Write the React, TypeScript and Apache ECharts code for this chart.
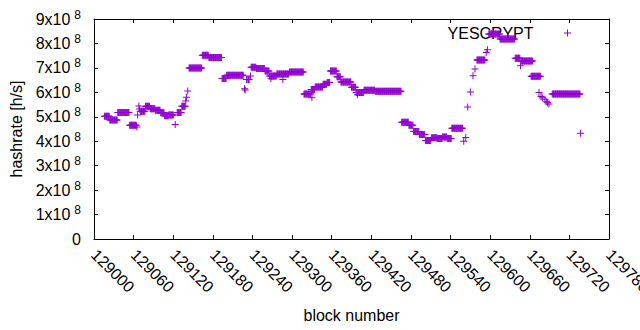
import React, { useEffect, useRef } from "react";
import * as echarts from "echarts";

// Block numbers are offsets from 129000; hashrate values in units of 1e8 h/s.
// Each run = consecutive blocks sharing the same plotted hashrate.
const BLOCK_BASE = 129000;
const runStart = [16, 24, 36, 54, 65, 66, 68, 69, 70, 78, 85, 93, 101, 107, 113, 123, 126, 133, 139, 140, 142, 144, 164, 174, 194, 201, 228, 229, 231, 233, 237, 238, 246, 259, 266, 268, 277, 286, 296, 318, 329, 330, 335, 347, 353, 358, 368, 374, 390, 397, 399, 409, 426, 466, 477, 484, 493, 502, 511, 520, 528, 535, 542, 560, 563, 566, 570, 574, 577, 580, 594, 596, 598, 615, 638, 646, 647, 662, 674, 677, 679, 683, 685, 687, 689, 694, 737];
const runEnd = [23, 35, 53, 64, 65, 66, 68, 69, 77, 84, 92, 100, 106, 112, 120, 123, 132, 138, 139, 140, 142, 163, 173, 193, 200, 226, 228, 229, 231, 235, 237, 245, 258, 265, 276, 268, 295, 286, 317, 328, 334, 330, 346, 352, 357, 367, 373, 389, 396, 408, 399, 425, 465, 476, 483, 492, 501, 510, 519, 527, 534, 541, 558, 560, 563, 566, 570, 574, 577, 592, 594, 596, 614, 637, 645, 646, 664, 676, 674, 677, 679, 683, 685, 687, 689, 736, 737];
const runValue = [5.02, 4.87, 5.18, 4.65, 4.58, 5.07, 5.44, 5.32, 5.23, 5.43, 5.33, 5.27, 5.16, 5.04, 5.07, 4.68, 5.18, 5.43, 5.65, 5.80, 6.05, 7.00, 7.52, 7.43, 6.57, 6.70, 6.15, 6.10, 6.52, 6.52, 6.67, 7.03, 6.98, 6.87, 6.67, 6.56, 6.75, 6.53, 6.83, 5.93, 6.12, 5.78, 6.22, 6.33, 6.40, 6.87, 6.64, 6.42, 6.21, 5.99, 5.90, 6.09, 6.04, 4.78, 4.65, 4.40, 4.28, 4.03, 4.14, 4.11, 4.17, 4.11, 4.53, 4.00, 4.15, 5.40, 6.01, 6.68, 6.95, 7.32, 7.63, 7.74, 8.39, 8.18, 7.39, 7.09, 7.28, 6.66, 5.99, 5.83, 5.78, 5.72, 5.61, 5.57, 5.52, 5.93, 4.33];

const seriesName = "YESCRYPT";
const xTitle = "block number";
const yTitle = "hashrate [h/s]";
const xMin = 129000;
const xMax = 129780;
const xStep = 60;
const yMin = 0;
const yMax = 9e8;
const yStep = 1e8;
const yExponent = 8;

const FONT = "Liberation Sans";
const COLOR = "#9400D3";
const PLUS = "path://M3,0H4V3H7V4H4V7H3V4H0V3H3Z";

function buildPoints(): [number, number][] {
  const pts: [number, number][] = [];
  for (let i = 0; i < runStart.length; i++) {
    for (let b = runStart[i]; b <= runEnd[i]; b++) {
      pts.push([BLOCK_BASE + b, runValue[i] * 1e8]);
    }
  }
  return pts;
}

export default function App() {
  const ref = useRef<HTMLDivElement>(null);
  useEffect(() => {
    if (!ref.current) return;
    const chart = echarts.init(ref.current, undefined, { renderer: "svg" });
    const axisLine = { show: true, onZero: false, lineStyle: { color: "#000", width: 1 } };
    const axisTick = { show: true, inside: true, length: 4, lineStyle: { color: "#000", width: 1 } };
    const grid = {
      left: 94,
      top: 19,
      width: 515,
      height: 220,
      containLabel: false,
      outerBoundsMode: "none",
    };
    chart.setOption({
      animation: false,
      backgroundColor: "#fff",
      grid,
      legend: {
        data: [seriesName],
        right: 69,
        top: 25,
        padding: 0,
        align: "right",
        itemWidth: 58,
        itemHeight: 7,
        icon: PLUS,
        z: 1,
        textStyle: { fontFamily: FONT, fontSize: 16, color: "#000" },
      },
      xAxis: [
        {
          type: "value",
          min: xMin,
          max: xMax,
          interval: xStep,
          position: "bottom",
          axisLine,
          axisTick,
          splitLine: { show: false },
          axisLabel: {
            rotate: -45,
            margin: 13,
            formatter: (v: number) => String(v),
            fontFamily: FONT,
            fontSize: 16,
            color: "#000",
          },
          name: xTitle,
          nameLocation: "middle",
          nameGap: 68,
          nameTextStyle: { fontFamily: FONT, fontSize: 16, color: "#000" },
        },
        {
          type: "value",
          min: xMin,
          max: xMax,
          interval: xStep,
          position: "top",
          axisLine,
          axisTick,
          splitLine: { show: false },
          axisLabel: { show: false },
        },
      ],
      yAxis: [
        {
          type: "value",
          min: yMin,
          max: yMax,
          interval: yStep,
          position: "left",
          axisLine,
          axisTick,
          splitLine: { show: false },
          axisLabel: {
            margin: 13,
            formatter: (v: number) =>
              v === 0 ? "{m|0}" : `{m|${Math.round(v / 1e8)}x10}{s|${yExponent}}`,
            rich: {
              m: { fontFamily: FONT, fontSize: 16, color: "#000" },
              s: { fontFamily: FONT, fontSize: 12, color: "#000", padding: [0, 0, 9, 4] },
            },
          },
          name: yTitle,
          nameLocation: "middle",
          nameGap: 70,
          nameTextStyle: { fontFamily: FONT, fontSize: 16, color: "#000" },
        },
        {
          type: "value",
          min: yMin,
          max: yMax,
          interval: yStep,
          position: "right",
          axisLine,
          axisTick,
          splitLine: { show: false },
          axisLabel: { show: false },
        },
      ],
      series: [
        {
          name: seriesName,
          type: "scatter",
          xAxisIndex: 0,
          yAxisIndex: 0,
          symbol: PLUS,
          symbolSize: 7,
          itemStyle: { color: COLOR, opacity: 1 },
          data: buildPoints(),
          z: 2,
        },
      ],
    });
    return () => chart.dispose();
  }, []);
  return (
    <div
      ref={ref}
      style={{ position: "fixed", left: 0, top: 0, width: 640, height: 330, background: "#fff" }}
    />
  );
}
